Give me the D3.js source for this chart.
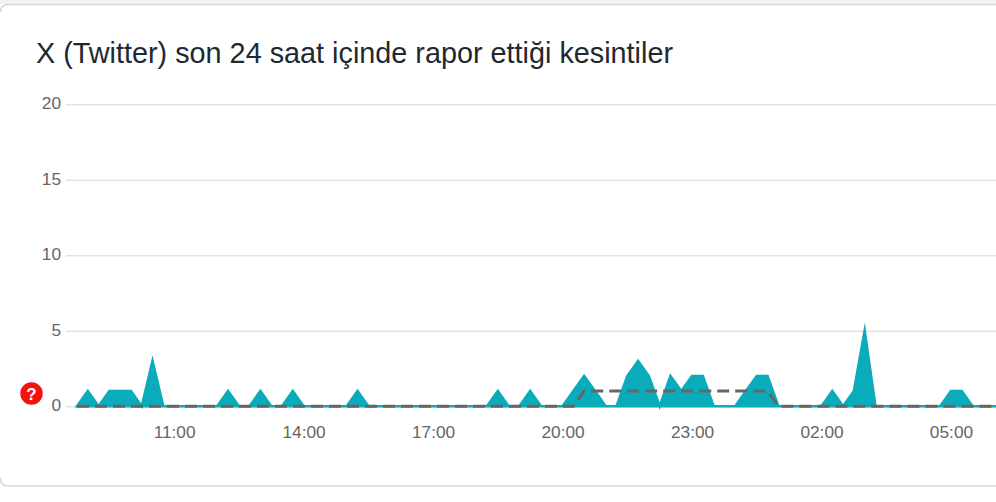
<!DOCTYPE html>
<html>
<head>
<meta charset="utf-8">
<script src="https://cdn.jsdelivr.net/npm/d3@7"></script>
<style>
  html, body { margin: 0; padding: 0; background: #fff; overflow: hidden; }
  svg { display: block; font-family: "Liberation Sans", Arial, sans-serif; }
</style>
</head>
<body>
<svg width="996" height="502"></svg>
<script>
const titleText = "X (Twitter) son 24 saat içinde rapor ettiği kesintiler";

// Bildirimler, 15 dakikada bir (08:45'ten başlıyor)
const reports = [
  0,1,0,1,1,1,0,3,0,0,0,0,0,0,1,0,0,1,0,0,
  1,0,0,0,0,0,1,0,0,0,0,0,0,0,0,0,0,0,0,1,
  0,0,1,0,0,0,1,2,1,0,0,2,3,2,0,2,1,2,2,0,
  0,0,1,2,2,0,0,0,0,0,1,0,1,5,0,0,0,0,0,0,
  0,1,1,0,0,0,0
];
const baseline = [
  0,0,0,0,0,0,0,0,0,0,0,0,0,0,0,0,0,0,0,0,
  0,0,0,0,0,0,0,0,0,0,0,0,0,0,0,0,0,0,0,0,
  0,0,0,0,0,0,0,1,1,1,1,1,1,1,1,1,1,1,1,1,
  1,1,1,1,1,0,0,0,0,0,0,0,0,0,0,0,0,0,0,0,
  0,0,0,0,0,0,0
];
const yTicks = [0, 5, 10, 15, 20];
const xTickIndex = [9, 21, 33, 45, 57, 69, 81];
const xTickLabels = ["11:00", "14:00", "17:00", "20:00", "23:00", "02:00", "05:00"];

const svg = d3.select("svg");

// kart
svg.append("rect").attr("width", 996).attr("height", 502).attr("fill", "#fff");
svg.append("rect").attr("width", 996).attr("height", 4).attr("fill", "#f1f3f4");
svg.append("path")
  .attr("d", "M0.5,12 Q0.5,4.5 8,4.5 H996 M0.5,478 Q0.5,486 8,486 H996")
  .attr("fill", "none").attr("stroke", "#d6d6d6").attr("stroke-width", 1.5);

svg.append("text")
  .attr("x", 36).attr("y", 63)
  .attr("font-size", 28.8).attr("fill", "#222832")
  .text(titleText);

const x = d3.scaleLinear().domain([0, 86]).range([77, 77 + 86 * 10.79]);
const y = d3.scaleLinear().domain([0, 20]).range([406.2, 104.2]);

const yAxis = svg.append("g")
  .attr("transform", "translate(66,0)")
  .call(d3.axisLeft(y).tickValues(yTicks).tickSize(-940).tickPadding(5));
yAxis.select(".domain").remove();
yAxis.selectAll("line").attr("stroke", "#e3e3e3").attr("stroke-width", 1.5);
yAxis.selectAll("text").attr("font-size", 17.3).attr("fill", "#666").attr("font-family", "inherit").attr("dy", "0.26em");

const xAxis = svg.append("g")
  .attr("transform", "translate(0,406)")
  .call(d3.axisBottom(x).tickValues(xTickIndex)
    .tickFormat((d, i) => xTickLabels[i]).tickSize(0).tickPadding(20));
xAxis.select(".domain").remove();
xAxis.selectAll("text").attr("font-size", 17.3).attr("fill", "#666").attr("font-family", "inherit");

const area = d3.area().x((d, i) => x(i)).y0(y(0)).y1(d => y(d));
svg.append("path")
  .datum(reports)
  .attr("d", area)
  .attr("fill", "#0aacbb")
  .attr("stroke", "#0aacbb")
  .attr("stroke-width", 2.6)
  .attr("stroke-linejoin", "miter")
  .attr("stroke-miterlimit", 20);

const line = d3.line().x((d, i) => x(i)).y(d => y(d));
svg.append("path")
  .datum(baseline)
  .attr("d", line)
  .attr("fill", "none")
  .attr("stroke", "#666")
  .attr("stroke-width", 3)
  .attr("stroke-dasharray", "12 6");

// soru işareti
const help = svg.append("g").attr("transform", "translate(31.5,393.5)");
help.append("circle").attr("r", 11.2).attr("fill", "#f5120c");
help.append("text")
  .attr("text-anchor", "middle").attr("y", 6)
  .attr("font-size", 17).attr("font-weight", "bold").attr("fill", "#fff")
  .text("?");
</script>
</body>
</html>
